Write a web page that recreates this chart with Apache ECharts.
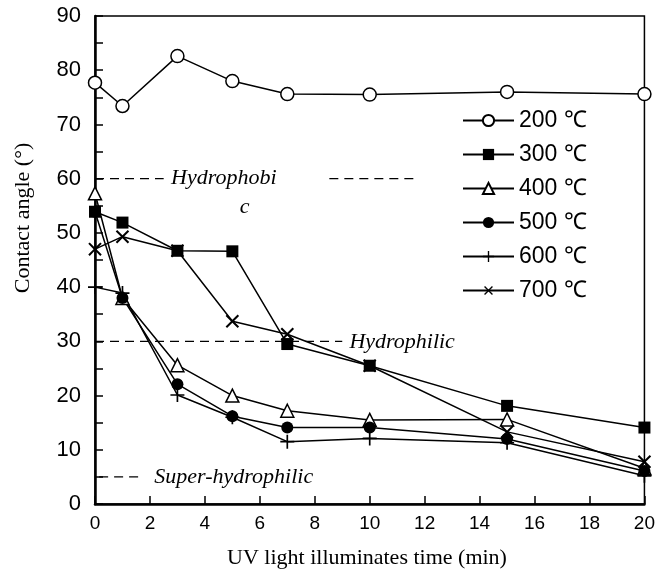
<!DOCTYPE html>
<html>
<head>
<meta charset="utf-8">
<script src="https://cdn.jsdelivr.net/npm/echarts@6/dist/echarts.min.js"></script>
<style>
  html, body { margin: 0; padding: 0; background: #fff; }
  #chart { width: 658px; height: 570px; }
</style>
</head>
<body>
<div id="chart"></div>
<script>
// illumination time (min)
const times = [0, 1, 3, 5, 7, 10, 15, 20]

// contact angle (deg) per calcination temperature
const names = ['200 ℃', '300 ℃', '400 ℃', '500 ℃', '600 ℃', '700 ℃']
const t200 = [77.7, 73.4, 82.6, 78.0, 75.6, 75.5, 76.0, 75.6]
const t300 = [53.9, 51.9, 46.7, 46.6, 29.5, 25.5, 18.1, 14.1]
const t400 = [57.3, 38.0, 25.6, 20.0, 17.2, 15.5, 15.6, 6.6]
const t500 = [53.9, 38.0, 22.1, 16.2, 14.1, 14.1, 12.0, 6.1]
const t600 = [40.0, 38.9, 20.1, 16.0, 11.5, 12.1, 11.3, 5.2]
const t700 = [47.0, 49.3, 46.7, 33.7, 31.3, 25.5, 13.3, 7.8]

// wettability zones: dashed guide segments [x0, x1, y] and labels
const guideX0 = [0, 8.53, 0, 0.15]
const guideX1 = [2.5, 11.62, 9.0, 1.75]
const guideY = [60, 60, 30, 5]
const noteText = ['Hydrophobi', 'c', 'Hydrophilic', 'Super-hydrophilic']
const noteX = [4.69, 5.45, 11.18, 5.05]
const noteY = [60, 54.7, 29.8, 5]

const plus = 'path://M4.4,0H5.6V4.4H10V5.6H5.6V10H4.4V5.6H0V4.4H4.4Z'
const marks = [
  { symbol: 'circle', size: 13, fill: '#fff' },
  { symbol: 'rect', size: 12, fill: '#000' },
  { symbol: 'triangle', size: 13, fill: '#fff' },
  { symbol: 'circle', size: 12, fill: '#000' },
  { symbol: plus, size: 14, fill: '#000' },
  { symbol: plus, size: 17, fill: '#000', rotate: 45 }
]
const values = [t200, t300, t400, t500, t600, t700]

const serif = 'Liberation Serif, Times New Roman, serif'
const sans = 'Liberation Sans, Arial, sans-serif'

const series = values.map((vals, i) => ({
  name: names[i],
  type: 'line',
  data: vals.map((v, j) => [times[j], v]),
  symbol: marks[i].symbol,
  symbolSize: marks[i].size,
  symbolRotate: marks[i].rotate || 0,
  lineStyle: { color: '#000', width: 1.5 },
  itemStyle: {
    color: marks[i].fill,
    borderColor: '#000',
    borderWidth: marks[i].fill === '#fff' ? 1.5 : 0
  },
  z: 3,
  silent: true
}))

guideY.forEach((y, i) => {
  series.push({
    type: 'line',
    data: [[guideX0[i], y], [guideX1[i], y]],
    symbol: 'none',
    lineStyle: { color: '#000', width: 1.3, type: [9, 6] },
    silent: true,
    z: 2
  })
})

series.push({
  type: 'scatter',
  data: noteText.map((s, i) => ({ value: [noteX[i], noteY[i]], name: s })),
  symbolSize: 0,
  itemStyle: { color: '#000' },
  label: {
    show: true,
    position: 'inside',
    formatter: p => p.name,
    fontFamily: serif,
    fontStyle: 'italic',
    fontSize: 22,
    color: '#000',
    opacity: 1,
    backgroundColor: '#fff'
  },
  emphasis: { disabled: true },
  silent: true,
  z: 4
})

const chart = echarts.init(document.getElementById('chart'))
chart.setOption({
  animation: false,
  backgroundColor: '#fff',
  grid: {
    left: 95, right: 13, top: 16, bottom: 66,
    show: true, borderColor: '#000', borderWidth: 1.5
  },
  legend: {
    data: names,
    orient: 'vertical',
    left: 457,
    top: 104,
    itemWidth: 51,
    itemHeight: 14,
    itemGap: 11,
    textStyle: { fontFamily: sans, fontSize: 23, color: '#000' },
    inactiveColor: '#000'
  },
  xAxis: {
    type: 'value',
    min: 0, max: 20, interval: 2,
    axisLine: { lineStyle: { color: '#000', width: 2.5 } },
    axisTick: { inside: true, length: 8, lineStyle: { color: '#000', width: 1.5 } },
    axisLabel: { fontFamily: sans, fontSize: 19, color: '#000', margin: 10 },
    splitLine: { show: false }
  },
  yAxis: {
    type: 'value',
    min: 0, max: 90, interval: 5,
    axisLine: { lineStyle: { color: '#000', width: 2.5 } },
    axisTick: { inside: true, length: 8, lineStyle: { color: '#000', width: 1.5 } },
    axisLabel: {
      fontFamily: sans, fontSize: 22, color: '#000', margin: 14,
      formatter: v => (v % 10 === 0 ? v : '')
    },
    splitLine: { show: false }
  },
  graphic: [
    {
      type: 'text', x: 367, y: 558,
      style: {
        text: 'UV light illuminates time (min)', font: '22px ' + serif, fill: '#000',
        align: 'center', verticalAlign: 'middle'
      }
    },
    {
      type: 'text', x: 23, y: 218, rotation: Math.PI / 2,
      style: {
        text: 'Contact angle (°)', font: '22px ' + serif, fill: '#000',
        align: 'center', verticalAlign: 'middle'
      }
    }
  ],
  series: series
})
</script>
</body>
</html>
